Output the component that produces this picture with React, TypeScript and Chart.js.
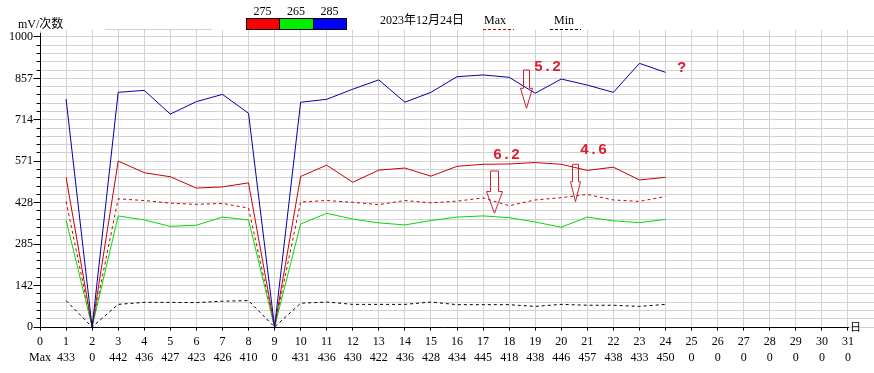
import { useEffect, useRef } from 'react';
import { Chart, registerables } from 'chart.js';

Chart.register(...registerables);

// ---- data ----
const days = [1, 2, 3, 4, 5, 6, 7, 8, 9, 10, 11, 12, 13, 14, 15, 16, 17, 18, 19, 20, 21, 22, 23, 24];
const s275 = [516, 0, 572, 532, 518, 479, 483, 497, 0, 519, 558, 499, 541, 548, 520, 554, 561, 562, 567, 561, 540, 551, 507, 516];
const s265 = [369, 0, 383, 369, 347, 351, 379, 369, 0, 355, 392, 372, 359, 352, 367, 379, 383, 377, 362, 344, 379, 366, 360, 371];
const s285 = [786, 0, 809, 816, 734, 777, 802, 737, 0, 775, 785, 820, 852, 775, 809, 863, 869, 861, 806, 855, 834, 809, 909, 878];
const maxValues = [433, 0, 442, 436, 427, 423, 426, 410, 0, 431, 436, 430, 422, 436, 428, 434, 445, 418, 438, 446, 457, 438, 433, 450];
const minValues = [91, 0, 78, 85, 85, 84, 89, 91, 0, 82, 86, 78, 78, 78, 86, 77, 77, 77, 71, 78, 75, 75, 71, 78];

const xTickLabels = ['0', '1', '2', '3', '4', '5', '6', '7', '8', '9', '10', '11', '12', '13', '14', '15', '16', '17', '18', '19', '20', '21', '22', '23', '24', '25', '26', '27', '28', '29', '30', '31'];
const maxRowLabels = ['Max', '433', '0', '442', '436', '427', '423', '426', '410', '0', '431', '436', '430', '422', '436', '428', '434', '445', '418', '438', '446', '457', '438', '433', '450', '0', '0', '0', '0', '0', '0', '0'];
const yTickLabels = ['0', '142', '285', '428', '571', '714', '857', '1000'];

const legendItems = ['275', '265', '285'];
const legendColors = ['#ff0000', '#00ee00', '#0000ff'];
const dateText = '2023年12月24日';
const yTitle = 'mV/次数';

// annotations in data coordinates
const arrows = [
  { x: 18.65, top: 886, head: 823, tip: 754, sw: 3, hw: 6 },
  { x: 17.43, top: 538, head: 467, tip: 392, sw: 4, hw: 8 },
  { x: 20.53, top: 561, head: 501, tip: 432, sw: 3, hw: 5 },
];
const notes = [
  { text: '5.2', x: 18.95, y: 895 },
  { text: '6.2', x: 17.38, y: 593 },
  { text: '4.6', x: 20.72, y: 608 },
  { text: '?', x: 24.45, y: 893 },
];

const FONT = '"Liberation Serif", "Times New Roman", "Noto Sans CJK SC", serif';
const GRID = '#d2d2d2';
const RED = '#c80000';

const yGridValues: number[] = [];
for (let i = 0; i <= 35; i++) yGridValues.push((1000 * i) / 35);
const xTickValues = xTickLabels.map((l) => Number(l));

const decor = {
  id: 'decor',
  afterDraw(chart: any) {
    const { ctx } = chart;
    const x = chart.scales.x;
    const y = chart.scales.y;
    ctx.save();
    // stray grey line at top
    ctx.strokeStyle = GRID;
    ctx.lineWidth = 1;
    ctx.beginPath();
    ctx.moveTo(105, 29.5);
    ctx.lineTo(212, 29.5);
    ctx.stroke();

    ctx.strokeStyle = '#000';
    const ax = Math.floor(x.getPixelForValue(0)) + 0.5;
    const ay = Math.floor(y.getPixelForValue(0)) + 0.5;
    const xEnd = x.getPixelForValue(31);
    ctx.beginPath();
    ctx.moveTo(ax, y.getPixelForValue(1000) - 4);
    ctx.lineTo(ax, ay);
    ctx.lineTo(xEnd + 1, ay);
    ctx.stroke();
    // y ticks
    yGridValues.forEach((v, i) => {
      const py = Math.floor(y.getPixelForValue(v)) + 0.5;
      ctx.beginPath();
      ctx.moveTo(i % 5 === 0 ? ax - 7 : ax - 4, py);
      ctx.lineTo(ax, py);
      ctx.stroke();
    });
    // x ticks
    xTickValues.forEach((v) => {
      const px = Math.floor(x.getPixelForValue(v)) + 0.5;
      ctx.beginPath();
      ctx.moveTo(px, ay);
      ctx.lineTo(px, ay + 3);
      ctx.stroke();
    });
    ctx.fillStyle = '#000';
    ctx.font = '11px "Noto Sans CJK SC"';
    ctx.textBaseline = 'alphabetic';
    ctx.textAlign = 'left';
    ctx.fillText('日', xEnd + 2, ay + 3);

    // y title
    ctx.font = '12px ' + FONT;
    ctx.fillText(yTitle, 18, 28);

    // legend boxes
    const bx = [246, 279, 313, 346];
    legendItems.forEach((lab, i) => {
      ctx.fillStyle = legendColors[i];
      ctx.fillRect(bx[i], 18, bx[i + 1] - bx[i], 11);
      ctx.strokeStyle = '#000';
      ctx.strokeRect(bx[i] + 0.5, 18.5, bx[i + 1] - bx[i], 11);
      ctx.fillStyle = '#000';
      ctx.textAlign = 'center';
      ctx.fillText(lab, (bx[i] + bx[i + 1]) / 2, 15);
    });
    ctx.textAlign = 'left';
    ctx.fillText(dateText, 380, 24);
    ctx.fillText('Max', 484, 24);
    ctx.fillText('Min', 554, 24);
    ctx.setLineDash([3, 2]);
    ctx.strokeStyle = RED;
    ctx.beginPath();
    ctx.moveTo(483, 29.5);
    ctx.lineTo(514, 29.5);
    ctx.stroke();
    ctx.strokeStyle = '#000';
    ctx.beginPath();
    ctx.moveTo(550, 29.5);
    ctx.lineTo(581, 29.5);
    ctx.stroke();
    ctx.setLineDash([]);

    // annotations
    ctx.strokeStyle = '#d02030';
    arrows.forEach((a) => {
      const cx = Math.round(x.getPixelForValue(a.x)) + 0.5;
      const t = y.getPixelForValue(a.top);
      const h = y.getPixelForValue(a.head);
      const p = y.getPixelForValue(a.tip);
      ctx.beginPath();
      ctx.moveTo(cx - a.sw, t);
      ctx.lineTo(cx + a.sw, t);
      ctx.lineTo(cx + a.sw, h);
      ctx.lineTo(cx + a.hw, h);
      ctx.lineTo(cx, p);
      ctx.lineTo(cx - a.hw, h);
      ctx.lineTo(cx - a.sw, h);
      ctx.closePath();
      ctx.stroke();
    });
    ctx.fillStyle = '#dc1e32';
    ctx.font = 'bold 15px "Liberation Mono", monospace';
    ctx.textBaseline = 'middle';
    notes.forEach((n) => {
      ctx.fillText(n.text, x.getPixelForValue(n.x), y.getPixelForValue(n.y));
    });
    ctx.restore();
  },
};

export default function App() {
  const ref = useRef<HTMLCanvasElement>(null);
  useEffect(() => {
    document.body.style.margin = '0';
    const pts = (vals: number[]) => days.map((d, i) => ({ x: d, y: vals[i] }));
    const line = (label: string, vals: number[], color: string, dash: number[] = []) => ({
      label,
      data: pts(vals),
      borderColor: color,
      backgroundColor: color,
      borderWidth: 1,
      borderDash: dash,
      pointRadius: 0,
      fill: false,
      tension: 0,
    });
    const chart = new Chart(ref.current!, {
      type: 'line',
      data: {
        datasets: [
          line('285', s285, '#0000aa'),
          line('275', s275, RED),
          line('265', s265, '#00dc00'),
          line('Max', maxValues, RED, [3, 3]),
          line('Min', minValues, '#000000', [3, 3]),
        ],
      },
      options: {
        responsive: false,
        animation: false,
        events: [],
        layout: { padding: { top: 30, left: 0, right: 0, bottom: 0 } },
        plugins: { legend: { display: false }, tooltip: { enabled: false }, title: { display: false } },
        scales: {
          x: {
            type: 'linear',
            min: 0,
            max: 32,
            afterBuildTicks: (s: any) => {
              s.ticks = xTickValues.map((v) => ({ value: v }));
            },
            afterFit: (s: any) => {
              s.height = 46;
            },
            grid: { color: GRID, lineWidth: 1, drawTicks: false },
            border: { display: false },
            ticks: {
              autoSkip: false,
              maxRotation: 0,
              minRotation: 0,
              padding: 7,
              color: '#000',
              font: { family: FONT, size: 12, lineHeight: 16 / 12 },
              callback: (v: any) => {
                const i = xTickValues.indexOf(Number(v));
                return i >= 0 ? [xTickLabels[i], maxRowLabels[i]] : '';
              },
            },
          },
          y: {
            type: 'linear',
            min: 0,
            max: 1024,
            afterBuildTicks: (s: any) => {
              s.ticks = yGridValues.map((v) => ({ value: v }));
            },
            afterFit: (s: any) => {
              s.width = 40;
            },
            grid: { color: GRID, lineWidth: 1, drawTicks: false },
            border: { display: false },
            ticks: {
              autoSkip: false,
              padding: 7,
              color: '#000',
              font: { family: FONT, size: 12 },
              callback: (_v: any, i: number) => (i % 5 === 0 ? yTickLabels[i / 5] : ''),
            },
          },
        },
      },
      plugins: [decor],
    } as any);
    return () => chart.destroy();
  }, []);
  return <canvas ref={ref} width={874} height={373} style={{ display: 'block' }} />;
}
